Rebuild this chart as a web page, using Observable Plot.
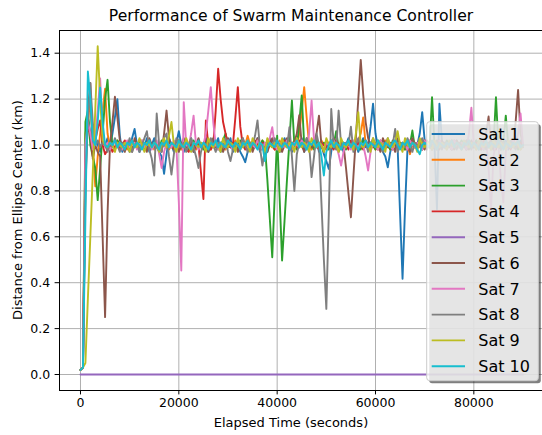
<!DOCTYPE html>
<html>
<head>
<meta charset="utf-8">
<script src="https://cdn.jsdelivr.net/npm/d3@7"></script>
<script src="https://cdn.jsdelivr.net/npm/@observablehq/plot@0.6"></script>
<style>
  html, body { margin: 0; padding: 0; background: #fff; }
  svg { display: block; }
</style>
</head>
<body>
<div id="chart"></div>
<script>
// Distance of each satellite from its ellipse centre (km), sampled every 500 s.
const names = ["Sat 1", "Sat 2", "Sat 3", "Sat 4", "Sat 5", "Sat 6", "Sat 7", "Sat 8", "Sat 9", "Sat 10"];
const colors = ["#1f77b4", "#ff7f0e", "#2ca02c", "#d62728", "#9467bd", "#8c564b", "#e377c2", "#7f7f7f", "#bcbd22", "#17becf"];
const sampleStep = 500; // seconds
const xTicks = [0, 20000, 40000, 60000, 80000];
const yTicks = [0, 0.2, 0.4, 0.6, 0.8, 1.0, 1.2, 1.4];

const sat1 = [
  0.02,0.03,0.9,1.12,1.05,0.98,1.02,1.0,0.97,1.03,
  1.0,1.03,0.99,1.05,1.12,1.2,1.04,0.97,1.01,1.0,
  0.97,1.03,1.07,1.0,0.97,1.01,0.99,1.03,0.97,1.0,
  1.03,0.99,0.97,0.95,0.874,0.96,1.03,1.0,0.97,1.01,
  1.06,1.0,0.97,1.01,0.99,1.03,0.97,1.0,1.01,0.99,
  1.0,1.03,0.97,1.01,0.99,1.0,1.03,0.97,1.0,1.01,
  0.99,1.03,0.97,1.0,1.01,0.97,0.95,0.925,0.97,1.01,
  1.0,0.99,1.03,0.97,1.0,1.01,0.97,1.03,1.0,0.99,
  1.01,0.97,1.0,1.03,0.99,1.0,0.97,1.01,1.0,0.99,
  1.03,0.97,1.0,1.01,0.99,1.0,1.03,0.97,1.0,0.96,
  0.93,0.896,0.97,1.03,1.0,0.99,1.01,0.97,1.0,1.03,
  0.99,1.0,1.01,0.97,1.0,1.03,0.99,1.0,1.08,1.18,
  1.05,0.99,1.01,0.97,0.95,0.903,0.97,1.01,1.0,0.99,
  0.7,0.417,0.72,0.98,1.0,1.01,0.99,1.0,1.05,1.143,
  1.02,0.99,1.0,0.98,1.0,0.72,1.18,1.02,0.99,1.0,
  1.01,0.98,1.0,1.02,0.99,1.0,1.01,0.98,1.0,1.01,
  0.99,1.02,0.98,1.0,1.01,0.99,1.0,1.02,0.98,1.0,
  1.01,0.99,1.0,1.02,0.98,1.0,1.01,0.99,1.0,1.02,
  1.0
];
const sat2 = [
  0.02,0.03,1.05,1.1,1.2,1.0,0.82,0.95,1.05,1.15,
  1.245,1.05,0.99,1.01,0.98,1.02,1.0,0.99,1.01,0.98,
  1.0,1.02,0.99,1.0,0.98,1.01,1.0,0.99,1.02,1.0,
  0.98,1.0,1.01,0.99,1.0,1.02,0.98,1.0,0.99,1.01,
  1.0,0.98,1.01,1.0,0.99,1.02,1.0,0.98,1.01,1.0,
  0.99,1.01,1.0,0.98,1.02,1.0,0.99,1.01,1.0,0.98,
  1.01,1.0,0.99,1.02,1.0,0.98,1.01,1.0,1.04,1.0,
  0.99,1.01,1.0,0.98,1.02,1.0,0.99,1.01,1.0,0.98,
  1.0,1.02,0.99,1.0,1.01,0.98,1.0,1.02,0.99,1.05,
  1.15,1.252,1.12,1.0,0.98,1.01,1.0,0.99,1.02,1.0,
  0.98,1.01,1.0,0.99,1.02,1.0,0.98,1.01,1.0,0.99,
  1.01,1.0,0.98,1.02,1.05,1.12,1.0,0.99,1.01,1.0,
  0.98,1.01,1.0,0.99,1.02,1.0,0.98,1.01,1.0,0.99,
  1.01,1.0,0.98,1.0,0.96,1.0,1.01,0.99,1.0,1.02,
  0.99,1.0,1.01,0.98,1.0,1.02,0.99,1.0,1.01,0.98,
  1.0,1.02,0.99,1.0,1.01,0.98,1.0,1.02,0.99,1.0,
  1.01,0.98,1.0,1.02,0.99,1.0,1.01,0.98,1.0,1.02,
  0.99,1.0,1.01,0.98,1.0,1.02,0.99,1.0,1.01,0.98,
  1.0
];
const sat3 = [
  0.02,0.03,1.1,1.15,1.0,0.95,0.9,0.76,0.9,1.05,
  1.2,1.284,1.1,1.0,0.98,1.02,1.0,0.99,1.01,1.0,
  0.98,1.01,1.0,0.99,1.02,1.0,0.98,1.01,1.0,0.99,
  1.01,1.0,0.98,1.02,1.0,0.99,1.01,1.0,0.98,1.0,
  1.02,0.99,1.0,1.01,0.98,1.0,1.02,0.99,1.0,1.01,
  0.98,1.0,1.02,0.99,1.0,1.01,0.98,1.0,1.02,1.05,
  1.0,0.99,1.01,1.0,0.98,1.02,1.0,0.99,1.01,1.0,
  0.98,1.01,1.0,0.99,1.02,1.0,0.85,0.68,0.511,0.78,
  1.04,0.77,0.497,0.67,0.85,1.02,1.194,1.0,0.98,1.1,
  1.216,1.0,0.99,1.01,1.0,0.98,1.02,1.0,0.99,1.01,
  1.0,0.98,1.02,1.0,1.06,0.99,1.01,1.0,0.98,1.02,
  1.0,0.99,1.01,1.0,0.98,1.02,1.0,0.99,1.01,1.0,
  0.98,1.02,1.0,0.99,1.01,1.0,0.98,1.02,1.0,0.99,
  1.01,1.0,0.98,1.02,1.0,1.063,0.99,1.01,1.0,0.98,
  1.02,1.0,0.99,1.208,1.0,0.98,1.01,1.0,0.99,1.02,
  1.0,0.98,1.01,1.0,0.99,1.02,1.0,0.98,1.01,1.0,
  0.99,1.02,1.0,0.98,1.01,1.0,0.99,1.02,1.0,1.208,
  1.0,0.98,1.01,1.128,1.0,0.99,1.02,1.0,0.98,1.01,
  1.0
];
const sat4 = [
  0.02,0.03,0.95,1.08,1.05,0.95,1.02,1.07,1.107,1.0,
  0.96,0.98,1.0,0.97,0.99,1.01,0.98,1.0,1.02,0.99,
  1.0,0.98,1.01,1.0,0.99,1.02,1.0,0.98,1.01,1.0,
  0.99,1.01,0.98,1.0,1.02,0.99,1.0,1.01,0.98,1.0,
  1.02,0.99,1.0,0.98,0.97,1.0,1.01,0.99,1.0,0.88,
  0.765,1.107,1.0,0.98,1.0,1.15,1.332,1.2,1.1,1.05,
  1.0,0.99,1.0,1.12,1.252,1.08,1.0,0.98,1.01,1.0,
  0.99,1.02,1.0,0.98,1.01,1.0,0.99,1.02,1.0,0.98,
  1.01,1.0,0.99,1.02,1.0,0.98,1.01,1.0,0.99,1.02,
  1.0,0.98,1.01,1.0,0.99,1.02,1.0,0.98,1.01,1.0,
  0.99,1.01,1.0,0.98,1.02,1.0,0.99,1.01,1.0,0.98,
  1.02,1.0,0.99,1.01,1.0,0.98,1.02,1.0,0.99,1.01,
  1.0,0.98,1.02,1.0,0.99,1.01,1.0,0.98,1.02,1.0,
  0.99,1.01,1.0,0.98,1.02,1.0,0.99,1.01,1.0,0.98,
  1.02,1.0,0.99,1.01,1.0,0.98,1.02,1.0,0.99,1.01,
  1.0,0.98,1.02,1.0,0.99,1.01,1.0,0.98,1.02,1.0,
  0.99,1.01,1.0,0.98,1.02,1.0,0.99,1.01,1.0,0.98,
  1.02,1.0,0.99,1.01,1.0,0.98,1.02,1.0,0.99,1.01,
  1.0
];
const sat5 = [
  0,0,0,0,0,0,0,0,0,0, 0,0,0,0,0,0,0,0,0,0,
  0,0,0,0,0,0,0,0,0,0, 0,0,0,0,0,0,0,0,0,0,
  0,0,0,0,0,0,0,0,0,0, 0,0,0,0,0,0,0,0,0,0,
  0,0,0,0,0,0,0,0,0,0, 0,0,0,0,0,0,0,0,0,0,
  0,0,0,0,0,0,0,0,0,0, 0,0,0,0,0,0,0,0,0,0,
  0,0,0,0,0,0,0,0,0,0, 0,0,0,0,0,0,0,0,0,0,
  0,0,0,0,0,0,0,0,0,0, 0,0,0,0,0,0,0,0,0,0,
  0,0,0,0,0,0,0,0,0,0, 0,0,0,0,0,0,0,0,0,0,
  0,0,0,0,0,0,0,0,0,0, 0,0,0,0,0,0,0,0,0,0,
  0
];
const sat6 = [
  0.02,0.03,0.8,1.15,1.27,0.94,1.0,0.97,0.95,0.6,
  0.25,0.7,1.0,1.1,1.21,1.12,1.02,1.0,0.97,1.01,
  1.0,0.97,1.03,1.0,0.99,1.01,1.0,0.97,1.03,1.0,
  0.99,1.01,1.0,0.97,1.05,1.15,1.03,0.99,1.0,1.01,
  0.97,1.0,1.03,0.99,1.0,1.01,0.97,1.0,1.03,0.99,
  1.0,1.01,0.97,1.0,1.03,0.99,1.0,1.01,0.97,1.0,
  1.03,0.99,1.0,1.01,0.97,1.0,1.03,0.99,1.0,1.01,
  0.97,1.0,1.03,0.99,1.0,1.01,0.97,1.0,1.03,0.99,
  1.0,1.01,0.97,1.0,1.03,0.99,1.0,1.01,1.05,1.13,
  1.0,0.97,1.03,1.0,0.99,1.01,1.05,1.128,1.0,0.97,
  1.01,1.0,0.99,1.03,1.0,0.97,1.01,1.0,0.9,0.79,
  0.685,0.86,1.03,1.2,1.371,1.22,1.1,1.03,1.0,0.99,
  1.01,1.0,0.97,1.03,1.0,0.99,1.01,1.0,0.97,1.03,
  1.0,0.99,1.01,1.0,0.97,1.03,1.0,0.99,1.01,1.0,
  0.98,1.02,1.0,0.99,1.01,1.0,0.98,1.02,1.0,0.99,
  1.01,1.0,0.98,1.02,1.0,0.99,1.01,1.0,0.98,1.02,
  1.0,0.99,1.01,1.0,0.98,1.05,1.124,1.0,0.98,1.01,
  0.99,1.02,1.0,0.98,1.01,1.0,0.99,1.1,1.24,1.05,
  1.0
];
const sat7 = [
  0.02,0.03,1.0,1.1,1.05,0.98,1.02,1.15,1.29,1.05,
  0.99,1.01,0.98,1.0,1.02,0.99,1.01,0.98,1.0,1.02,
  0.99,1.0,1.01,0.98,1.0,1.02,0.99,1.0,1.01,0.98,
  1.0,1.02,0.96,0.9,0.97,1.01,1.0,0.99,1.02,1.0,
  0.75,0.453,1.187,1.0,0.99,1.05,1.128,1.0,0.98,1.0,
  1.0,1.05,1.15,1.252,1.1,1.0,0.98,1.01,1.0,0.99,
  1.02,1.0,0.98,1.01,1.0,0.99,1.02,1.0,0.98,1.01,
  1.0,0.99,1.02,1.0,0.98,1.01,1.0,1.03,1.078,1.0,
  0.98,1.01,1.0,0.99,1.02,1.0,0.98,1.01,1.0,0.99,
  1.02,1.0,0.98,1.05,1.194,1.02,0.99,1.01,1.0,0.98,
  1.01,1.0,0.99,1.02,1.0,0.96,0.91,0.97,1.01,1.0,
  0.98,1.02,1.0,0.99,1.01,1.0,0.95,0.889,0.97,1.01,
  1.0,0.98,1.02,1.0,0.99,1.01,1.0,0.98,1.02,1.0,
  0.99,1.01,1.0,0.98,1.02,1.0,0.99,1.01,1.0,0.98,
  1.02,1.0,0.99,1.01,1.0,0.98,1.02,1.0,0.99,1.01,
  1.0,0.98,1.02,1.0,0.99,1.01,1.0,0.98,1.05,1.162,
  1.0,0.99,1.01,1.0,0.98,1.02,0.9,0.72,0.95,1.01,
  1.0,0.85,0.75,0.97,1.0,0.99,1.02,1.0,1.05,1.137,
  1.0
];
const sat8 = [
  0.02,0.03,0.85,1.1,1.27,1.1,1.0,1.02,0.99,1.01,
  1.0,0.97,1.01,0.99,1.03,1.0,0.97,1.01,1.0,0.99,
  1.03,0.97,1.0,1.01,0.97,1.0,1.03,1.06,0.98,0.94,
  0.867,1.137,1.0,0.97,1.03,1.05,0.95,0.871,0.96,1.03,
  1.0,0.99,1.01,0.97,1.0,1.03,0.99,0.95,0.9,0.97,
  1.01,1.0,0.99,1.03,1.0,0.97,1.01,1.0,0.99,1.03,
  0.97,0.93,0.98,1.01,1.0,0.99,1.03,1.0,0.97,1.01,
  1.0,1.04,1.107,0.99,0.91,0.98,1.01,1.0,0.99,1.03,
  1.0,0.97,1.01,1.0,0.99,1.078,0.95,0.8,0.96,1.01,
  1.0,0.99,1.03,1.0,0.86,0.95,1.05,1.0,0.75,0.5,
  0.286,0.7,1.157,1.0,0.98,1.15,1.0,0.99,1.01,1.0,
  1.08,0.97,1.0,1.03,0.99,1.0,1.01,0.97,1.0,1.03,
  0.99,1.0,1.01,0.97,1.0,1.03,0.99,1.0,1.07,0.97,
  1.0,1.01,0.99,1.03,1.0,0.97,1.01,1.0,0.99,1.03,
  1.0,0.98,1.01,1.0,0.99,1.02,1.0,0.98,1.01,1.0,
  0.99,1.02,1.0,0.98,1.01,1.0,0.99,1.02,1.0,0.98,
  1.01,1.0,0.99,1.02,1.0,0.98,1.01,1.0,0.99,1.02,
  1.0,0.98,1.01,1.0,0.99,1.02,1.0,0.98,1.01,1.0,
  0.99
];
const sat9 = [
  0.02,0.03,0.05,0.33,0.6,0.88,1.15,1.43,1.2,1.02,
  1.0,0.99,1.01,1.0,0.97,1.01,1.0,0.99,1.01,1.0,
  0.97,1.01,1.0,0.99,1.03,1.0,0.97,1.01,1.0,0.99,
  1.01,1.0,0.97,1.0,1.03,0.99,1.04,1.1,1.0,0.97,
  1.01,1.0,0.99,1.03,1.0,0.97,1.01,1.0,0.99,1.01,
  1.0,0.97,1.03,1.0,0.99,1.01,1.0,0.97,1.03,1.0,
  0.99,1.01,1.0,0.97,1.03,1.0,0.99,1.01,1.0,0.97,
  1.03,1.0,0.99,1.01,1.0,0.97,1.03,1.0,0.99,1.01,
  1.0,0.97,1.03,1.0,0.99,1.01,1.0,0.97,1.03,1.0,
  0.99,1.01,1.0,0.97,1.03,1.0,0.99,1.01,1.0,0.97,
  1.03,1.0,0.99,1.01,1.0,0.97,1.03,1.0,0.99,1.01,
  1.0,0.98,1.05,1.143,1.0,0.99,1.01,1.0,0.97,1.03,
  1.0,0.99,1.01,1.0,0.97,1.03,1.0,0.99,1.01,1.06,
  1.0,0.97,1.03,1.0,0.99,1.01,1.0,0.97,1.03,1.0,
  0.99,1.01,1.0,0.98,1.02,1.0,0.99,1.01,1.0,0.98,
  1.02,1.0,0.99,1.01,1.0,0.98,1.02,1.0,0.99,1.01,
  1.0,0.98,1.02,1.0,0.99,1.01,1.0,0.98,1.02,1.0,
  0.99,1.01,1.0,0.98,1.02,1.0,0.99,1.01,1.0,0.98,
  1.0
];
const sat10 = [
  0.02,0.03,0.68,1.32,1.2,1.02,1.0,1.1,1.25,1.1,
  1.0,0.99,1.01,1.0,1.02,0.99,1.01,1.0,0.98,1.01,
  1.0,1.02,0.99,1.01,1.0,0.98,1.01,1.0,1.02,0.99,
  1.01,1.0,0.98,1.01,1.0,1.02,0.99,1.01,1.0,0.99,
  1.02,1.0,0.99,1.01,1.0,0.98,1.01,1.0,1.02,0.99,
  1.01,1.0,0.98,1.01,1.0,1.02,0.99,1.01,1.0,0.99,
  1.02,1.0,0.99,1.01,1.0,0.98,1.01,1.0,1.02,0.99,
  1.01,1.0,0.98,1.01,1.0,0.93,0.99,1.01,1.0,0.99,
  1.02,1.0,0.99,1.01,1.0,0.98,1.01,1.0,1.02,0.99,
  1.01,1.0,0.98,1.01,1.0,1.02,0.99,1.01,0.95,0.867,
  0.97,1.0,1.02,0.99,1.01,1.0,0.98,1.01,1.0,1.02,
  0.99,1.01,1.0,0.98,1.01,1.0,1.02,0.99,1.01,1.0,
  0.99,1.02,1.0,0.98,1.01,1.0,0.99,1.01,1.02,1.0,
  0.98,1.01,1.0,1.02,0.99,1.01,1.0,0.98,0.96,1.0,
  1.01,1.0,0.99,1.02,1.0,0.98,1.01,1.0,0.99,1.01,
  1.0,1.02,0.99,1.01,1.0,0.98,1.01,1.0,1.02,0.99,
  1.01,1.0,0.98,1.01,1.0,1.02,0.99,1.01,1.0,0.99,
  1.02,1.0,0.98,1.01,1.0,0.99,1.01,1.0,1.02,0.99,
  1.0
];

const series = [sat1, sat2, sat3, sat4, sat5, sat6, sat7, sat8, sat9, sat10];
const rows = series.flatMap((values, k) =>
  values.map((v, i) => ({sat: names[k], t: i * sampleStep, v}))
);

const xDomain = [-4271, 93966];
const yDomain = [-0.0697, 1.4989];

const svg = Plot.plot({
  width: 542,
  height: 435,
  marginLeft: 59,
  marginRight: 0,
  marginTop: 30,
  marginBottom: 45,
  style: {fontFamily: "DejaVu Sans", fontSize: "12.5px", color: "#000", background: "#fff", overflow: "visible"},
  x: {domain: xDomain},
  y: {domain: yDomain},
  color: {domain: names, range: colors},
  marks: [
    Plot.gridX(xTicks, {stroke: "#b0b0b0", strokeOpacity: 1, strokeWidth: 1}),
    Plot.gridY(yTicks, {stroke: "#b0b0b0", strokeOpacity: 1, strokeWidth: 1}),
    Plot.lineY(rows, {x: "t", y: "v", z: "sat", stroke: "sat", strokeWidth: 1.9, strokeLinejoin: "round"}),
    Plot.ruleX([xDomain[0]], {stroke: "#000", strokeWidth: 1}),
    Plot.ruleY(yDomain, {stroke: "#000", strokeWidth: 1}),
    Plot.axisX(xTicks, {tickSize: 4.4, tickPadding: 3.5, tickFormat: d => String(d), label: null, fontSize: 12.5}),
    Plot.axisY(yTicks, {tickSize: 4.4, tickPadding: 5, tickFormat: d3.format(".1f"), label: null, fontSize: 12.5})
  ]
});

const root = d3.select(svg);

// Title and axis labels
root.append("text")
  .attr("x", 291).attr("y", 20.7)
  .attr("text-anchor", "middle").attr("font-size", 15.6).attr("fill", "#000")
  .text("Performance of Swarm Maintenance Controller");
root.append("text")
  .attr("x", 291).attr("y", 427)
  .attr("text-anchor", "middle").attr("font-size", 13).attr("fill", "#000")
  .text("Elapsed Time (seconds)");
root.append("text")
  .attr("transform", "translate(21.5,210) rotate(-90)")
  .attr("text-anchor", "middle").attr("font-size", 13).attr("fill", "#000")
  .text("Distance from Ellipse Center (km)");

// Legend: shadow, translucent box, then one entry per satellite
const box = {x: 426.7, y: 121.7, w: 111.6, h: 259, r: 3};
const legend = root.append("g").attr("text-anchor", "start");
legend.append("rect")
  .attr("x", box.x + 2.5).attr("y", box.y + 2.5)
  .attr("width", box.w).attr("height", box.h).attr("rx", box.r)
  .attr("fill", "#000").attr("fill-opacity", 0.5);
legend.append("rect")
  .attr("x", box.x).attr("y", box.y)
  .attr("width", box.w).attr("height", box.h).attr("rx", box.r)
  .attr("fill", "#fff").attr("fill-opacity", 0.8)
  .attr("stroke", "#cccccc").attr("stroke-width", 1);
names.forEach((name, k) => {
  const cy = 134 + k * 25.8;
  legend.append("line")
    .attr("x1", 431.7).attr("x2", 465).attr("y1", cy).attr("y2", cy)
    .attr("stroke", colors[k]).attr("stroke-width", 1.9);
  legend.append("text")
    .attr("x", 478.3).attr("y", cy).attr("dy", "0.36em")
    .attr("text-anchor", "start")
    .attr("font-size", 16).attr("fill", "#000")
    .text(name);
});

document.getElementById("chart").appendChild(svg);
</script>
</body>
</html>
